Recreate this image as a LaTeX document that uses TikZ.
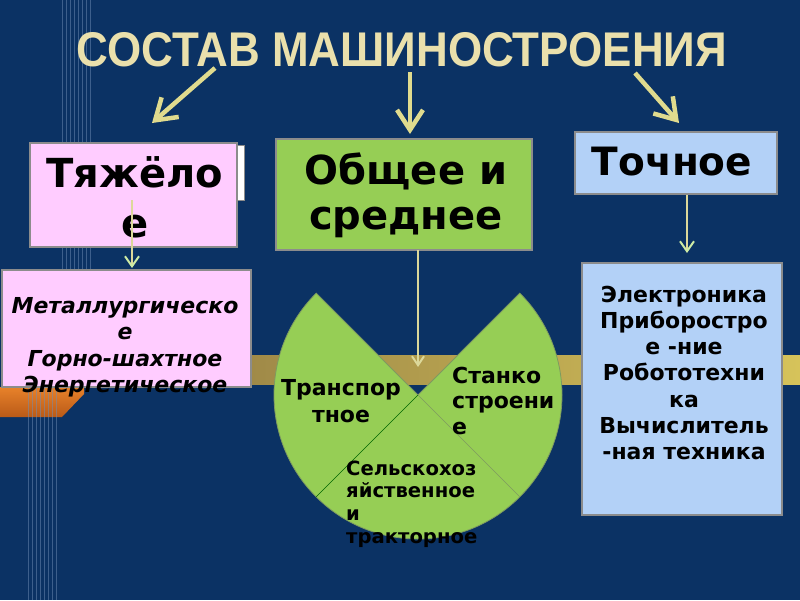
\documentclass[tikz,border=0pt]{standalone}
\usepackage{fontspec}
\usepackage{graphicx}
\setmainfont{DejaVu Sans}[ItalicFont={DejaVu Sans Oblique},BoldItalicFont={DejaVu Sans Bold Oblique}]
\newfontfamily\titlefont{Liberation Sans}
\usetikzlibrary{arrows.meta}
\definecolor{bgnavy}{HTML}{0B3264}
\definecolor{stripec}{HTML}{6F8DB5}
\definecolor{pinkc}{HTML}{FFCCFF}
\definecolor{greenc}{HTML}{96CE55}
\definecolor{bluec}{HTML}{B3D1F7}
\definecolor{boxgray}{HTML}{8C8C8C}
\definecolor{arrowyel}{HTML}{E0DB8E}
\definecolor{smallline}{HTML}{DCD89A}
\definecolor{tipgreen}{HTML}{CDEBA5}
\definecolor{titlegold}{HTML}{EAE0AC}
\definecolor{bandL}{HTML}{A08A48}
\definecolor{bandR}{HTML}{D6C35A}
\definecolor{orangeT}{HTML}{E8822A}
\definecolor{orangeB}{HTML}{B95A18}
\definecolor{pieedge}{HTML}{7E9A60}
\newcommand{\mlc}[1]{\begin{tabular}[t]{@{}c@{}}#1\end{tabular}}
\newcommand{\mll}[1]{\begin{tabular}[t]{@{}l@{}}#1\end{tabular}}
\begin{document}
\begin{tikzpicture}[x=1pt,y=-1pt,
  box/.style={draw=boxgray, line width=1.2pt, inner sep=0pt},
  stripe/.style={draw=stripec, line width=0.5pt, opacity=0.5},
  bigarrow/.style={draw=arrowyel, line width=4.5pt, -{Straight Barb[length=20pt,width=26pt,line width=4.5pt]}},
  smallarrow/.style={draw=smallline, line width=2.5pt, -{Straight Barb[length=10pt,width=14pt,line width=2pt,color=tipgreen]}},
  txt/.style={inner sep=0pt, text=black}]
\useasboundingbox (0,0) rectangle (800,600);
\fill[bgnavy] (0,0) rectangle (800,600);
% decorative orange bar and band
\shade[top color=orangeT, bottom color=orangeB] (0,387) -- (84,387) -- (84,394) -- (62,417) -- (0,417) -- cycle;
\foreach \x in {62,66,...,90} \draw[stripe] (\x,0) -- (\x,387);
\foreach \x in {28,32,...,56} \draw[stripe] (\x,387) -- (\x,600);
\shade[left color=bandL, right color=bandR] (250,355) rectangle (800,384);
% title
\node[txt, text=titlegold, font=\titlefont\bfseries] (title) at (402,50) {\resizebox{650pt}{34pt}{СОСТАВ МАШИНОСТРОЕНИЯ}};
% boxes
\draw[fill=white, draw=boxgray, line width=1pt] (200,145) rectangle (244,200);
\node[box, fill=pinkc, minimum width=207pt, minimum height=104pt] (heavy) at (133.5,195) {};
\node[box, fill=pinkc, minimum width=249pt, minimum height=117pt] (heavylist) at (126.5,328.5) {};
\node[box, fill=greenc, minimum width=256pt, minimum height=111pt] (general) at (404,194.5) {};
\node[box, fill=bluec, minimum width=202pt, minimum height=62pt] (precise) at (676,163) {};
\node[box, fill=bluec, minimum width=200pt, minimum height=252pt] (preciselist) at (682,389) {};
% pie
\coordinate (pc) at (418,395);
\fill[greenc] (pc) -- ++(225:144) arc[start angle=225,end angle=-45,radius=144] -- cycle;
\draw[pieedge, line width=0.8pt] (pc) -- ++(225:144) arc[start angle=225,end angle=-45,radius=144] -- cycle;
\draw[draw=black!60!green, line width=0.5pt] (pc) -- ++(135:144);
\draw[draw=pieedge, line width=0.4pt] (pc) -- ++(45:144);
% texts
\node[txt, anchor=base, font=\bfseries\fontsize{40}{50}\selectfont] (heavytxt) at (135,187) {\mlc{Тяжёло\\е}};
\node[txt, anchor=base, font=\bfseries\itshape\fontsize{22}{26.5}\selectfont] (heavylisttxt) at (125,313) {\mlc{Металлургическо\\е\\Горно-шахтное\\Энергетическое}};
\node[txt, anchor=base, font=\bfseries\fontsize{40}{45}\selectfont] (generaltxt) at (406,184) {\mlc{Общее и\\среднее}};
\node[txt, anchor=base, font=\bfseries\fontsize{39}{45}\selectfont] (precisetxt) at (672,175) {Точное};
\node[txt, anchor=base, font=\bfseries\fontsize{22}{26.3}\selectfont] (preciselisttxt) at (684,302) {\mlc{Электроника\\Приборостро\\е -ние\\Робототехни\\ка\\Вычислитель\\-ная техника}};
\node[txt, anchor=base, font=\bfseries\fontsize{22}{27}\selectfont] (transp) at (341,395) {\mlc{Транспор\\тное}};
\node[txt, anchor=base west, font=\bfseries\fontsize{22}{25.5}\selectfont] (stanko) at (452,383) {\mll{Станко\\строени\\е}};
\node[txt, anchor=base west, font=\bfseries\fontsize{19.6}{22.7}\selectfont] (selsk) at (346,475) {\mll{Сельскохоз\\яйственное\\и\\тракторное}};
% arrows
\coordinate (t1) at (215,68); \coordinate (h1) at (152,123);
\coordinate (t2) at (410,72); \coordinate (h2) at (410,134);
\coordinate (t3) at (635,73); \coordinate (h3) at (679,123);
\draw[bigarrow] (t1) -- (h1);
\draw[bigarrow] (t2) -- (h2);
\draw[bigarrow] (t3) -- (h3);
\coordinate (s1) at (132,200); \coordinate (e1) at (132,268);
\coordinate (s2) at (418,250); \coordinate (e2) at (418,367);
\coordinate (s3) at (687,195); \coordinate (e3) at (687,253);
\draw[smallarrow] (s1) -- (e1);
\draw[smallarrow, -{Straight Barb[length=9pt,width=12pt,line width=2pt,color=smallline]}] (s2) -- (e2);
\draw[smallarrow] (s3) -- (e3);
\end{tikzpicture}
\end{document}
